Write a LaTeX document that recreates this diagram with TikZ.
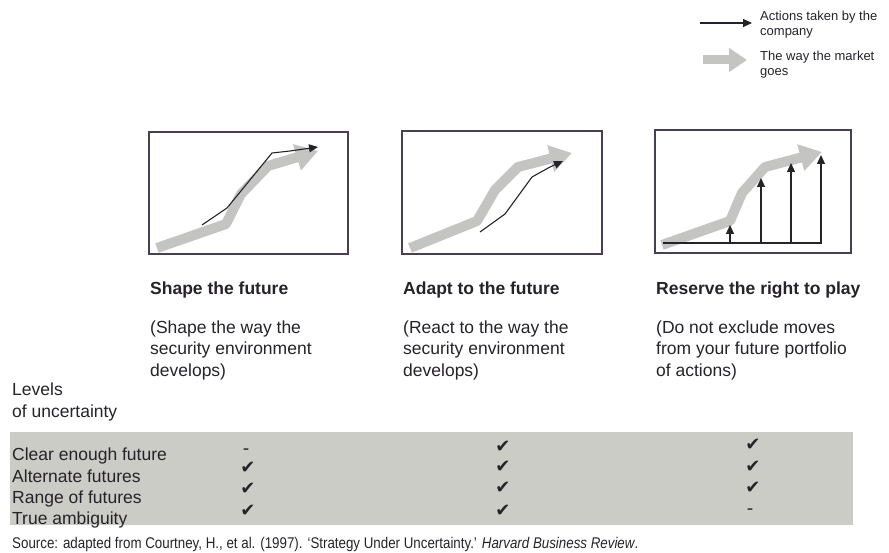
\documentclass[tikz,border=0pt]{standalone}
\usepackage{fontspec}
\setmainfont{Liberation Sans}
\newfontfamily\narrowfont[FakeStretch=0.86]{Liberation Sans}
\newfontfamily\symfont{DejaVu Sans}
\usetikzlibrary{arrows.meta}

\definecolor{ink}{RGB}{38,34,42}
\definecolor{frame}{RGB}{72,64,82}
\definecolor{market}{RGB}{196,196,194}
\definecolor{band}{RGB}{204,204,198}

\tikzset{
  market/.style={draw=market, line width=10pt, line join=round,
    -{Triangle[length=22pt,width=26pt]}},
  action/.style={draw=ink, line width=1.1pt, -{Triangle[length=9pt,width=8pt]}},
  panel/.style={draw=frame, line width=1.2pt},
  head/.style={anchor=base west, inner sep=0pt, text=ink,
    font=\fontsize{17.5}{21.5}\selectfont\bfseries},
  body/.style={anchor=base west, inner sep=0pt, text=ink, align=left,
    font=\fontsize{17.5}{21.5}\selectfont},
  legend/.style={anchor=base west, inner sep=0pt, text=ink, align=left,
    font=\fontsize{13}{15.5}\selectfont},
  tick/.style={inner sep=0pt, text=ink, font=\symfont\fontsize{18}{18}\selectfont}
}

\begin{document}
\begin{tikzpicture}[x=1pt,y=-1pt]
    \useasboundingbox (0,0) rectangle (889,553);

    % Legend (multi-line nodes sit on their last baseline)
    \draw[action] (700,23) -- (752,23);
    \node[legend] (lgact) at (760,36) {Actions taken by the\\company};
    \draw[market, line width=9pt, -{Triangle[length=18pt,width=23pt]}] (703,60) -- (747,60);
    \node[legend] (lgmkt) at (760,76) {The way the market\\goes};

    % Shape the future
    \draw[panel] (149,132) rectangle (348,254);
    \draw[market] (157,248) -- (226,224) -- (241,194) -- (268,166) -- (318,151);
    \draw[action] (202,225) -- (227,208) -- (272,153) -- (290,151) -- (318,147);

    % Adapt to the future
    \draw[panel] (402,131) rectangle (602,254);
    \draw[market] (410,248) -- (477,221) -- (495,190) -- (518,167) -- (572,153);
    \draw[action] (480,232) -- (505,214) -- (532,177) -- (550,167) -- (563,161);

    % Reserve the right to play
    \draw[panel] (655,130) rectangle (851,253);
    \draw[market] (662,245) -- (730,221) -- (742,193) -- (765,167) -- (822,152);
    \draw[ink, line width=1.1pt] (663,243) -- (822,243);
    \foreach \x/\y in {730/225, 761/178, 791/163, 821/155}
        \draw[action] (\x,243) -- (\x,\y);

    % Headings and explanations
    \node[head] (shape) at (150,295) {Shape the future};
    \node[head] (adapt) at (403,295) {Adapt to the future};
    \node[head] (reserve) at (656,295) {Reserve the right to play};
    \node[body] (shapetxt) at (150,376) {(Shape the way the\\security environment\\develops)};
    \node[body] (adapttxt) at (403,376) {(React to the way the\\security environment\\develops)};
    \node[body] (reservetxt) at (656,376) {(Do not exclude moves\\from your future portfolio\\of actions)};

    % Levels of uncertainty
    \node[body] (levels) at (12,417) {Levels\\of uncertainty};
    \fill[band] (10,432) rectangle (853,525);
    \node[body] (clear) at (12,460) {Clear enough future};
    \node[body] (alternate) at (12,482) {Alternate futures};
    \node[body] (range) at (12,503) {Range of futures};
    \node[body] (ambiguity) at (12,524) {True ambiguity};

    % Ticks
    \node[tick] (t11) at (246,452) {-};
    \node[tick] (t12) at (248,468) {✔};
    \node[tick] (t13) at (248,489) {✔};
    \node[tick] (t14) at (248,511) {✔};
    \node[tick] (t21) at (503,447) {✔};
    \node[tick] (t22) at (503,467) {✔};
    \node[tick] (t23) at (503,488) {✔};
    \node[tick] (t24) at (503,511) {✔};
    \node[tick] (t31) at (753,445) {✔};
    \node[tick] (t32) at (753,467) {✔};
    \node[tick] (t33) at (753,488) {✔};
    \node[tick] (t34) at (750,512) {-};

    % Source
    \node[anchor=base west, inner sep=0pt, text=ink, font=\narrowfont\fontsize{15.5}{17}\selectfont]
        (source) at (12,548) {Source: adapted from Courtney, H., et al. (1997). ‘Strategy Under Uncertainty.’ \textit{Harvard Business Review}.};
\end{tikzpicture}
\end{document}
